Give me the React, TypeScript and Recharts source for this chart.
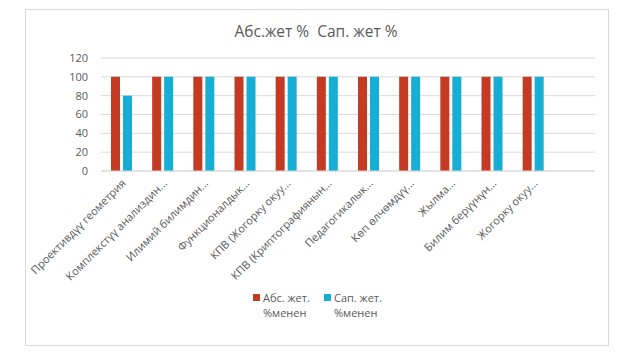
import React from 'react';
import { BarChart, Bar, XAxis, YAxis, CartesianGrid } from 'recharts';

const categories = [
  'Проективдүү геометрия',
  'Комплекстүү анализдин...',
  'Илимий билимдин...',
  'Функционалдык...',
  'КПВ (Жогорку окуу...',
  'КПВ (Криптографиянын...',
  'Педагогикалык...',
  'Көп өлчөмдүү...',
  'Жылма...',
  'Билим берүүнүн...',
  'Жогорку окуу...',
  '',
];
const absValues: (number | null)[] = [100, 100, 100, 100, 100, 100, 100, 100, 100, 100, 100, null];
const sapValues: (number | null)[] = [80, 100, 100, 100, 100, 100, 100, 100, 100, 100, 100, null];
const yTicks = [0, 20, 40, 60, 80, 100, 120];
const seriesNames = ['Абс. жет. %менен', 'Сап. жет. %менен'];
const legendLines = [['Абс. жет.', '%менен'], ['Сап. жет.', '%менен']];
const title = 'Абс.жет %  Сап. жет %';

const data = categories.map((c, i) => ({ name: c, abs: absValues[i], sap: sapValues[i] }));

const FONT = '"Open Sans", "Noto Sans", sans-serif';
const TEXT = '#595959';
const GRID = '#d9d9d9';
const RED = '#C23B22';
const BLUE = '#17AED5';

const CatTick = (props: any) => {
  const { x, y, payload } = props;
  const tx = x + 5;
  const ty = y + 5;
  return (
    <text
      x={tx}
      y={ty}
      transform={`rotate(-45, ${tx}, ${ty})`}
      textAnchor="end"
      fontFamily={FONT}
      fontSize={11}
      fill={TEXT}
    >
      {payload.value}
    </text>
  );
};

const LegendBox = () => {
  const colors = [RED, BLUE];
  const lefts = [253, 324];
  return (
    <div style={{ position: 'absolute', left: 0, top: 290, width: 636, height: 40 }}>
      {legendLines.map((lines, i) => (
        <div
          key={i}
          style={{
            position: 'absolute',
            left: lefts[i],
            top: 0,
            fontFamily: FONT,
            fontSize: 11,
            color: TEXT,
            lineHeight: '15px',
          }}
        >
          <span
            style={{
              position: 'absolute',
              left: 0,
              top: 4,
              width: 7,
              height: 7,
              background: colors[i],
            }}
          />
          <div style={{ marginLeft: 10, whiteSpace: 'nowrap' }}>
            {lines[0]}
            <br />
            {lines[1]}
          </div>
        </div>
      ))}
    </div>
  );
};

export default function App() {
  return (
    <div style={{ position: 'absolute', left: 0, top: 0, width: 636, height: 360, background: '#fff' }}>
      <div
        style={{
          position: 'absolute',
          left: 25,
          top: 9,
          width: 582,
          height: 335,
          border: '1px solid #d9d9d9',
        }}
      />
      <div
        style={{
          position: 'absolute',
          left: 0,
          top: 20,
          width: 632,
          textAlign: 'center',
          fontFamily: FONT,
          fontSize: 15.5,
          color: TEXT,
          whiteSpace: 'pre',
        }}
      >
        {title}
      </div>
      <div style={{ position: 'absolute', left: 0, top: 0 }}>
        <BarChart
          width={636}
          height={360}
          data={data}
          margin={{ top: 58, right: 41, left: 61, bottom: 79 }}
          barCategoryGap="24%"
          barGap={3}
        >
          <CartesianGrid vertical={false} stroke={GRID} />
          <XAxis
            dataKey="name"
            interval={0}
            height={110}
            axisLine={{ stroke: GRID }}
            tickLine={false}
            tick={<CatTick />}
          />
          <YAxis
            width={40}
            domain={[0, 120]}
            ticks={yTicks}
            interval={0}
            axisLine={false}
            tickLine={false}
            tickMargin={7}
            tick={{ fontFamily: FONT, fontSize: 11, fill: TEXT }}
          />
          <Bar dataKey="abs" name={seriesNames[0]} fill={RED} barSize={9} isAnimationActive={false} />
          <Bar dataKey="sap" name={seriesNames[1]} fill={BLUE} barSize={9} isAnimationActive={false} />
        </BarChart>
      </div>
      <LegendBox />
    </div>
  );
}
